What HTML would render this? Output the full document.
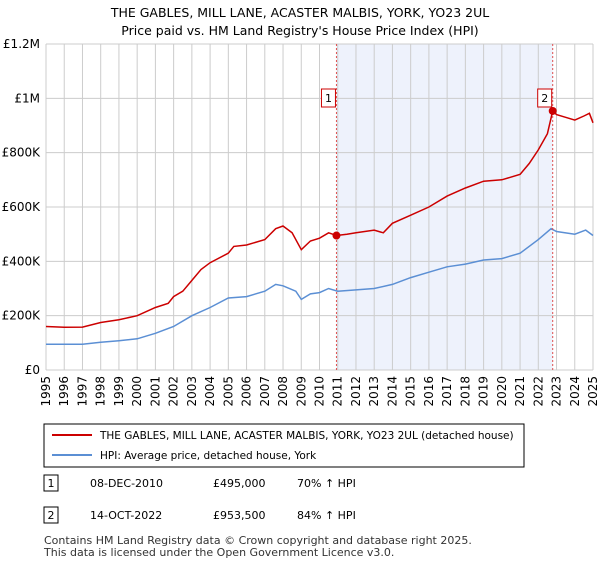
<!DOCTYPE html>
<html><head><meta charset="utf-8"><style>
body{margin:0;background:#fff;font-family:"Liberation Sans","DejaVu Sans",sans-serif;}
svg text{font-family:"DejaVu Sans","Liberation Sans",sans-serif;}
</style></head><body>
<svg width="600" height="560" viewBox="0 0 600 560">
<text x="300" y="17" text-anchor="middle" font-size="12.5">THE GABLES, MILL LANE, ACASTER MALBIS, YORK, YO23 2UL</text>
<text x="300" y="35" text-anchor="middle" font-size="12.5">Price paid vs. HM Land Registry's House Price Index (HPI)</text>
<g id="plot"></g>
<g>
<rect x="44" y="424" width="480" height="43" fill="#fff" stroke="#000" stroke-width="1"/>
<line x1="52" y1="435" x2="92" y2="435" stroke="#cc0000" stroke-width="2"/>
<text x="100" y="439" font-size="10.5">THE GABLES, MILL LANE, ACASTER MALBIS, YORK, YO23 2UL (detached house)</text>
<line x1="52" y1="455" x2="92" y2="455" stroke="#5b8fd4" stroke-width="2"/>
<text x="100" y="459" font-size="10.5">HPI: Average price, detached house, York</text>
</g>
<g font-size="11">
<rect x="44" y="475" width="14" height="16" fill="#fff" stroke="#000"/><text x="51" y="487" text-anchor="middle">1</text>
<text x="90" y="487">08-DEC-2010</text><text x="213" y="487">£495,000</text><text x="297" y="487">70% ↑ HPI</text>
<rect x="44" y="507" width="14" height="16" fill="#fff" stroke="#000"/><text x="51" y="519" text-anchor="middle">2</text>
<text x="90" y="519">14-OCT-2022</text><text x="213" y="519">£953,500</text><text x="297" y="519">84% ↑ HPI</text>
</g>
<text x="44" y="544" font-size="11" fill="#333">Contains HM Land Registry data © Crown copyright and database right 2025.</text>
<text x="44" y="556" font-size="11" fill="#333">This data is licensed under the Open Government Licence v3.0.</text>
</svg>
<script>
const years=[1995,1996,1997,1998,1999,2000,2001,2002,2003,2004,2005,2006,2007,2008,2009,2010,2011,2012,2013,2014,2015,2016,2017,2018,2019,2020,2021,2022,2023,2024,2025];
const yTicks=[0,200000,400000,600000,800000,1000000,1200000];
const yLabels=["£0","£200K","£400K","£600K","£800K","£1M","£1.2M"];
const redT=[1995,1996,1997,1998,1999,2000,2001,2001.7,2002,2002.5,2003,2003.5,2004,2005,2005.3,2006,2007,2007.6,2008,2008.5,2009,2009.5,2010,2010.5,2010.93,2011.5,2012,2013,2013.5,2014,2015,2016,2017,2018,2019,2020,2021,2021.5,2022,2022.5,2022.79,2023,2023.5,2024,2024.5,2024.8,2025];
const redV=[160000,157000,158000,175000,185000,200000,230000,245000,270000,290000,330000,370000,395000,430000,455000,460000,480000,520000,530000,505000,443000,475000,485000,505000,495000,500000,505000,515000,505000,540000,570000,600000,640000,670000,695000,700000,720000,760000,810000,870000,953500,940000,930000,920000,935000,945000,910000];
const blueT=[1995,1997,1998,1999,2000,2001,2002,2003,2004,2005,2006,2007,2007.6,2008,2008.7,2009,2009.5,2010,2010.5,2011,2012,2013,2014,2015,2016,2017,2018,2019,2020,2021,2022,2022.7,2023,2024,2024.6,2025];
const blueV=[95000,95000,102000,108000,115000,135000,160000,200000,230000,265000,270000,290000,315000,310000,290000,260000,280000,285000,300000,290000,295000,300000,315000,340000,360000,380000,390000,405000,410000,430000,480000,520000,510000,500000,515000,495000];
const sales=[{t:2010.93,v:495000,n:"1"},{t:2022.79,v:953500,n:"2"}];
const X0=46,X1=593,Y0=370,Y1=44;
const sx=t=>X0+(t-1995)/30*(X1-X0);
const sy=v=>Y0-v/1200000*(Y0-Y1);
const NS="http://www.w3.org/2000/svg";
const g=document.getElementById('plot');
function mk(tag,attrs,parent){const e=document.createElementNS(NS,tag);for(const k in attrs)e.setAttribute(k,attrs[k]);(parent||g).appendChild(e);return e;}
const shade=mk('rect',{x:sx(sales[0].t),y:Y1,width:sx(sales[1].t)-sx(sales[0].t),height:Y0-Y1,fill:'#eef2fc'});


years.forEach(y=>{const l=mk('line',{x1:sx(y),x2:sx(y),y1:Y1,y2:Y0,stroke:'#cccccc','stroke-width':1});


const t=mk('text',{x:0,y:0,'font-size':12,'text-anchor':'end',transform:`translate(${sx(y)+4},${Y0+6}) rotate(-90)`});t.textContent=y;

});
yTicks.forEach((v,i)=>{const l=mk('line',{x1:X0,x2:X1,y1:sy(v),y2:sy(v),stroke:'#cccccc','stroke-width':1});


const t=mk('text',{x:X0-6,y:sy(v)+4,'font-size':12,'text-anchor':'end'});t.textContent=yLabels[i];

});
function path(T,V,col,name){const d=T.map((t,i)=>(i?'L':'M')+sx(t).toFixed(1)+','+sy(V[i]).toFixed(1)).join('');
const p=mk('path',{d:d,fill:'none',stroke:col,'stroke-width':1.5});

}
path(blueT,blueV,'#5b8fd4','hpi-line');
path(redT,redV,'#cc0000','property-line');
sales.forEach(s=>{const l=mk('line',{x1:sx(s.t),x2:sx(s.t),y1:Y1,y2:Y0,stroke:'#e05050','stroke-width':1,'stroke-dasharray':'2,2'});


const c=mk('circle',{cx:sx(s.t),cy:sy(s.v),r:4,fill:'#cc0000'});


const r=mk('rect',{x:sx(s.t)-15,y:89,width:14,height:18,fill:'#fff',stroke:'#cc0000'});


const t=mk('text',{x:sx(s.t)-8,y:102,'font-size':11,'text-anchor':'middle'});t.textContent=s.n;

});
</script>
</body></html>
